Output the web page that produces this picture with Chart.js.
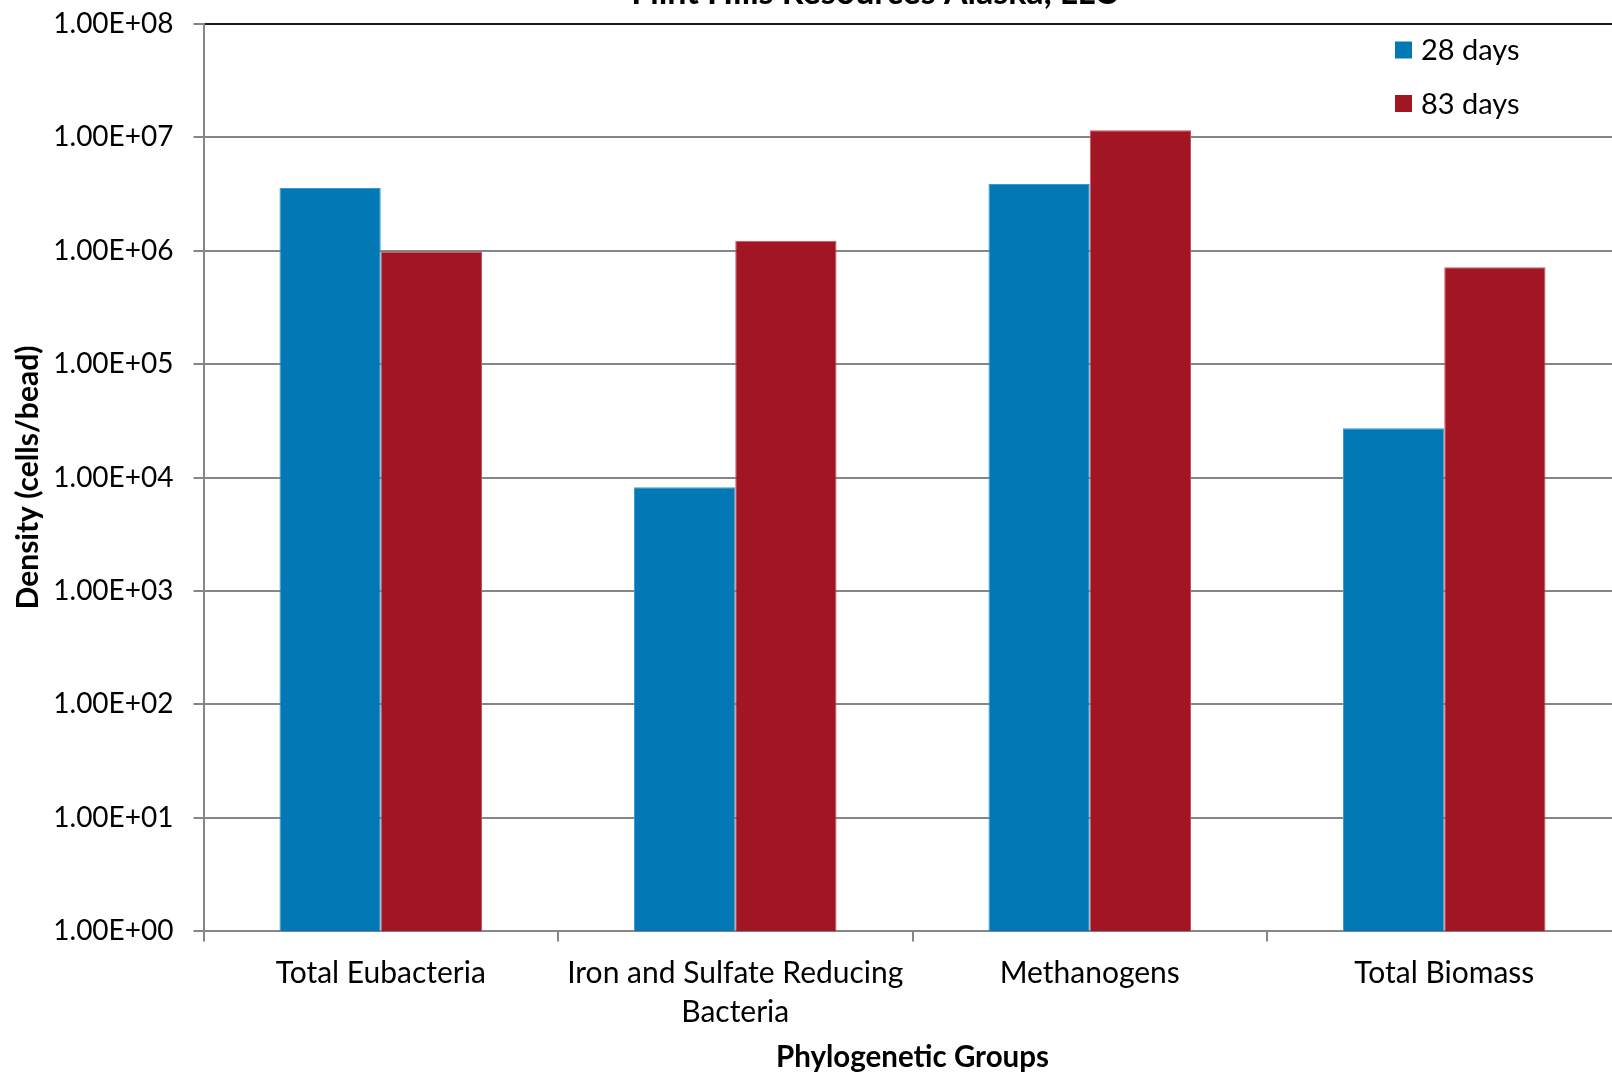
<!DOCTYPE html>
<html>
<head>
<meta charset="utf-8">
<script src="https://cdn.jsdelivr.net/npm/chart.js@4/dist/chart.umd.min.js"></script>
<style>
  html, body { margin: 0; padding: 0; background: #fff; overflow: hidden; }
  #wrap { width: 1640px; height: 1075px; }
</style>
</head>
<body>
<div id="wrap"><canvas id="c" width="1640" height="1075"></canvas></div>
<script>
// Phylogenetic group densities on beads after two incubation periods
const chartTitle = 'Flint Hills Resources Alaska, LLC';
const categories = ['Total Eubacteria', ['Iron and Sulfate Reducing', 'Bacteria'], 'Methanogens', 'Total Biomass'];
const seriesNames = ['28 days', '83 days'];
const days28 = [3.56e6, 8.2e3, 3.85e6, 2.72e4];
const days83 = [9.8e5, 1.22e6, 1.15e7, 7.13e5];
const yTickValues = [1, 10, 100, 1e3, 1e4, 1e5, 1e6, 1e7, 1e8];
const yTickLabels = ['1.00E+00', '1.00E+01', '1.00E+02', '1.00E+03', '1.00E+04', '1.00E+05', '1.00E+06', '1.00E+07', '1.00E+08'];

const FONT = 'Lato, "Open Sans", sans-serif';
const BLUE = '#0279B4';
const RED = '#A21623';
const GRID = '#868686';

// Title sits at the very top edge of the canvas
const titlePlugin = {
  id: 'topTitle',
  afterDraw(chart) {
    const ctx = chart.ctx;
    ctx.save();
    ctx.font = 'bold 34px ' + FONT;
    ctx.fillStyle = '#000';
    ctx.textAlign = 'center';
    ctx.textBaseline = 'alphabetic';
    ctx.fillText(chartTitle, 874, 4);
    ctx.restore();
  }
};

// Legend drawn inside the plot area, top right
const legendPlugin = {
  id: 'boxLegend',
  afterDraw(chart) {
    const ctx = chart.ctx;
    ctx.save();
    ctx.font = '29px ' + FONT;
    ctx.textBaseline = 'middle';
    ctx.textAlign = 'left';
    chart.data.datasets.forEach((ds, i) => {
      const cy = 50 + i * 53.5;
      ctx.fillStyle = ds.backgroundColor;
      ctx.fillRect(1395, cy - 8.5, 17, 17);
      ctx.fillStyle = '#000';
      ctx.fillText(ds.label, 1421, cy + 1);
    });
    ctx.restore();
  }
};

new Chart(document.getElementById('c'), {
  type: 'bar',
  data: {
    labels: categories,
    datasets: [
      { label: seriesNames[0], data: days28, backgroundColor: BLUE, borderColor: '#3a9bd0', borderWidth: 1 },
      { label: seriesNames[1], data: days83, backgroundColor: RED, borderColor: '#c25560', borderWidth: 1 }
    ]
  },
  options: {
    responsive: false,
    animation: false,
    layout: { padding: { top: 23.6, right: 18.5, bottom: 0, left: 0 } },
    datasets: { bar: { categoryPercentage: 0.5714, barPercentage: 1.0, borderSkipped: 'start' } },
    plugins: { legend: { display: false }, tooltip: { enabled: false }, title: { display: false } },
    scales: {
      x: {
        afterFit(s) { s.height = 143.6; },
        grid: { offset: true, drawOnChartArea: false, color: GRID, lineWidth: 2, tickLength: 10 },
        border: { color: GRID, width: 2 },
        ticks: { color: '#000', font: { family: FONT, size: 30, lineHeight: 1.3 }, padding: 12, maxRotation: 0, autoSkip: false },
        title: { display: true, text: 'Phylogenetic Groups', color: '#000', font: { family: FONT, size: 29.5, weight: 'bold' }, padding: { top: 0, bottom: 0 } }
      },
      y: {
        type: 'logarithmic',
        min: 1,
        max: 1e8,
        afterFit(s) { s.width = 203.5; },
        afterBuildTicks(s) { s.ticks = yTickValues.map(v => ({ value: v, major: true })); },
        grid: {
          color: ctx => (ctx.tick && ctx.tick.value === 1e8) ? '#1a1a1a' : GRID,
          tickColor: GRID,
          lineWidth: 2,
          tickLength: 10
        },
        border: { color: GRID, width: 2 },
        ticks: {
          color: '#000',
          font: { family: FONT, size: 28, lineHeight: 0.1 },
          padding: 20,
          callback(value) {
            const i = yTickValues.indexOf(value);
            return i >= 0 ? yTickLabels[i] : '';
          }
        },
        title: { display: true, text: 'Density (cells/bead)', color: '#000', font: { family: FONT, size: 30, weight: 'bold' }, padding: { top: 10, bottom: 0 } }
      }
    }
  },
  plugins: [titlePlugin, legendPlugin]
});
</script>
</body>
</html>
